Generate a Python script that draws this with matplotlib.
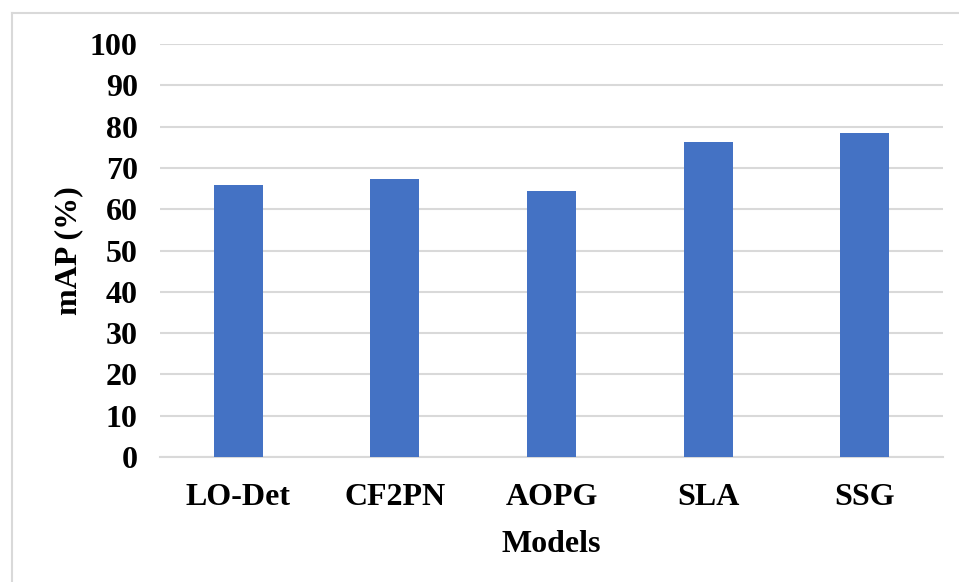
import matplotlib.pyplot as plt
from matplotlib.lines import Line2D

models = ["LO-Det", "CF2PN", "AOPG", "SLA", "SSG"]
mAP = [65.8, 67.2, 64.4, 76.3, 78.4]
yticks = [0, 10, 20, 30, 40, 50, 60, 70, 80, 90, 100]

plt.rcParams['font.family'] = ['Liberation Serif', 'DejaVu Serif']
plt.rcParams['font.weight'] = 'bold'

fig = plt.figure(figsize=(9.59, 5.82), dpi=100)
ax = fig.add_axes([160 / 959, 1 - 457 / 582, 783 / 959, 413 / 582])

x = range(len(models))
ax.bar(x, mAP, width=0.313, color="#4472C4", zorder=3)
ax.set_xlim(-0.5, len(models) - 0.5)
ax.set_ylim(0, 100)
ax.set_yticks(yticks)
ax.set_xticks(list(x))
ax.set_xticklabels(models)
ax.yaxis.grid(True, color="#D9D9D9", linewidth=1.5, zorder=0)
ax.set_axisbelow(True)
for s in ["top", "right", "left"]:
    ax.spines[s].set_visible(False)
ax.spines["bottom"].set_color("#D9D9D9")
ax.spines["bottom"].set_linewidth(1.5)
ax.tick_params(axis="both", length=0, labelsize=23)
ax.tick_params(axis="y", pad=16)
ax.tick_params(axis="x", pad=19)
ax.set_ylabel("mAP (%)", fontsize=23, fontweight="bold", labelpad=5)
ax.set_xlabel("Models", fontsize=23, fontweight="bold", labelpad=13)

# chart border like the Excel chart area
fig.add_artist(Line2D([11.5 / 959, 1], [1 - 13 / 582, 1 - 13 / 582], color="#D9D9D9", lw=1.5, transform=fig.transFigure))
fig.add_artist(Line2D([11.5 / 959, 11.5 / 959], [0, 1 - 13 / 582], color="#D9D9D9", lw=1.5, transform=fig.transFigure))

plt.savefig("out.png", dpi=100)
